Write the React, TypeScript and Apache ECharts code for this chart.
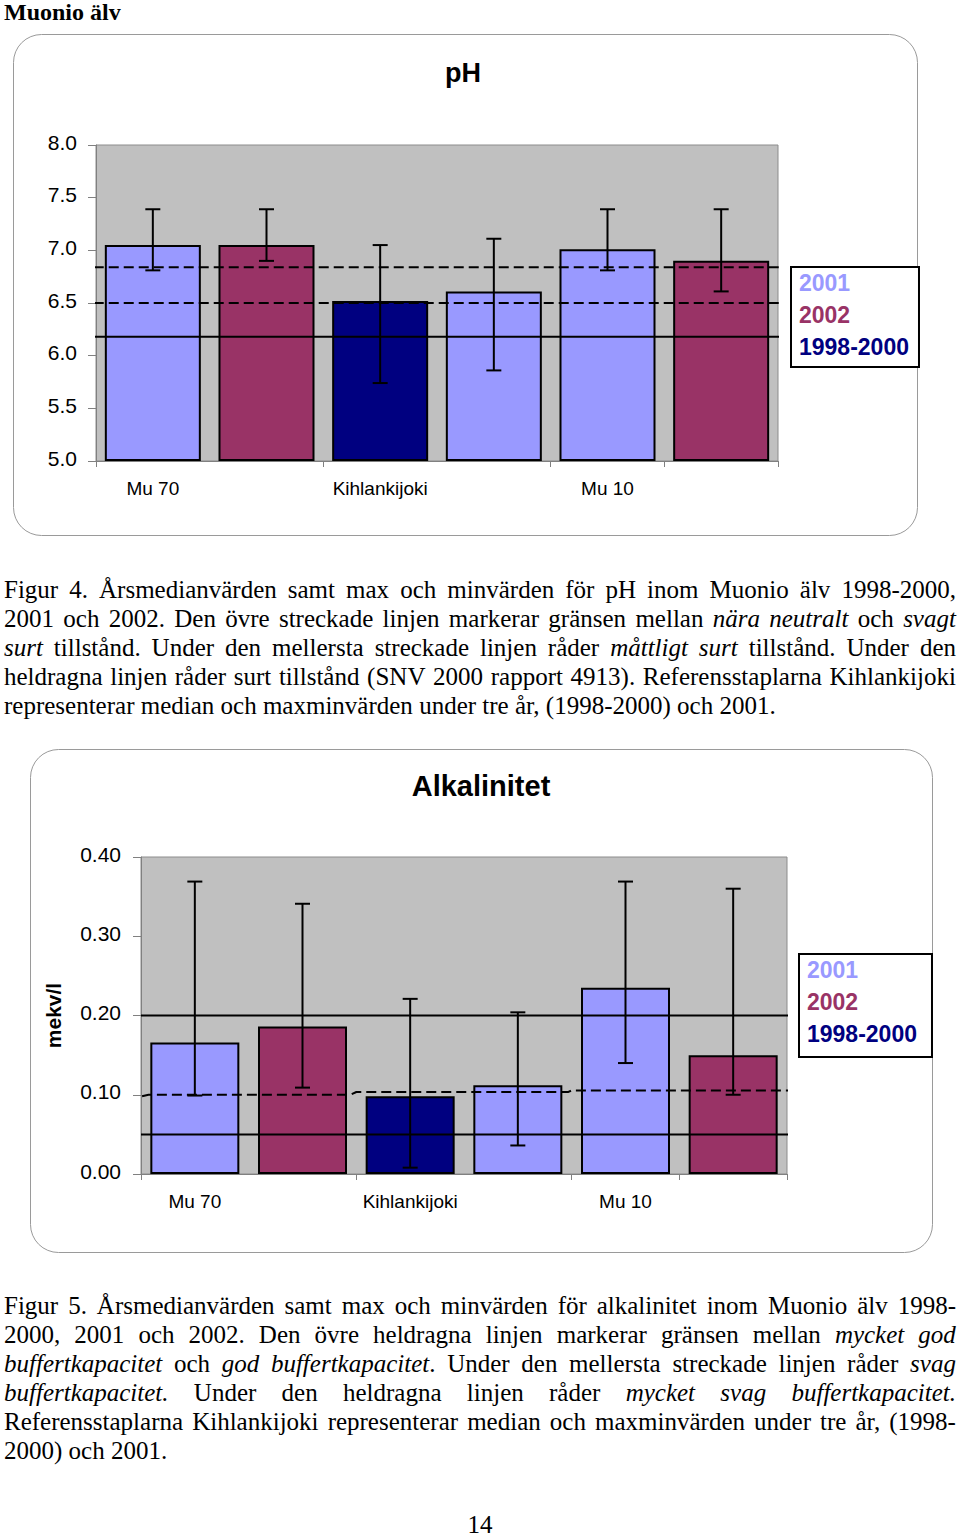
import React, { useEffect, useRef } from 'react';
import * as echarts from 'echarts';

// ---------- data ----------
const categories = ['Mu 70', '', 'Kihlankijoki', '', 'Mu 10', ''];
const seriesNames = ['2001', '2002', '1998-2000'];
const seriesColors = ['#9999FF', '#993366', '#000080'];
// which series (index into seriesNames) each bar slot belongs to
const slotSeries = [0, 1, 2, 0, 0, 1];

const phMedian = [7.05, 7.05, 6.52, 6.61, 7.01, 6.9];
const phMin = [6.81, 6.9, 5.74, 5.86, 6.81, 6.61];
const phMax = [7.39, 7.39, 7.05, 7.11, 7.39, 7.39];

const alkMedian = [0.166, 0.186, 0.098, 0.112, 0.235, 0.15];
const alkMin = [0.099, 0.109, 0.008, 0.036, 0.14, 0.1];
const alkMax = [0.369, 0.341, 0.221, 0.204, 0.369, 0.36];

// reference lines: [position in bar slots, value]
const phUpperDashed = [[-0.02, 6.84], [6.04, 6.84]];
const phMiddleDashed = [[-0.02, 6.5], [6.04, 6.5]];
const phSolid = [[-0.02, 6.18], [6.04, 6.18]];
const alkUpperSolid = [[0, 0.2], [6.01, 0.2]];
const alkDashed = [[0.01, 0.098], [0.07, 0.1], [1.945, 0.1], [2.0, 0.1035], [3.97, 0.1035], [4.0, 0.1055], [6.01, 0.1055]];
const alkLowerSolid = [[0, 0.05], [6.01, 0.05]];

const caption4 = [
  'Figur 4. Årsmedianvärden samt max och minvärden för pH inom Muonio älv 1998-2000,',
  '2001 och 2002. Den övre streckade linjen markerar gränsen mellan *nära neutralt* och *svagt*',
  '*surt* tillstånd. Under den mellersta streckade linjen råder *måttligt surt* tillstånd. Under den',
  'heldragna linjen råder surt tillstånd (SNV 2000 rapport 4913). Referensstaplarna Kihlankijoki',
  'representerar median och maxminvärden under tre år, (1998-2000) och 2001.',
];
const caption5 = [
  'Figur 5. Årsmedianvärden samt max och minvärden för alkalinitet inom Muonio älv 1998-',
  '2000, 2001 och 2002. Den övre heldragna linjen markerar gränsen mellan *mycket god*',
  '*buffertkapacitet* och *god buffertkapacitet*. Under den mellersta streckade linjen råder *svag*',
  '*buffertkapacitet.* Under den heldragna linjen råder *mycket svag buffertkapacitet.*',
  'Referensstaplarna Kihlankijoki representerar median och maxminvärden under tre år, (1998-',
  '2000) och 2001.',
];

const SANS = '"Liberation Sans", Arial, sans-serif';
const SERIF = '"Liberation Serif", "Times New Roman", serif';

function buildChartSeries(g: number, median: number[], mins: number[], maxs: number[], barWidth: number, lines: { pts: number[][]; dashed: boolean }[]) {
  const out: any[] = [];
  seriesNames.forEach((name, s) => {
    out.push({
      type: 'bar',
      name,
      xAxisIndex: g * 2,
      yAxisIndex: g,
      data: median.map((v, i) => (slotSeries[i] === s ? v : '-')),
      barWidth,
      barGap: '-100%',
      itemStyle: { color: seriesColors[s], borderColor: '#000', borderWidth: 2 },
      z: 2,
      silent: true,
    });
  });
  lines.forEach((l) => {
    out.push({
      type: 'line',
      xAxisIndex: g * 2 + 1,
      yAxisIndex: g,
      data: l.pts,
      symbol: 'none',
      showSymbol: false,
      clip: false,
      silent: true,
      lineStyle: { color: '#000', width: 2, type: l.dashed ? [10, 5] : 'solid' },
      z: 3,
    });
  });
  out.push({
    type: 'custom',
    xAxisIndex: g * 2,
    yAxisIndex: g,
    data: median.map((_, i) => [i, mins[i], maxs[i]]),
    encode: { x: 0, y: [1, 2] },
    silent: true,
    z: 4,
    renderItem: (params: any, api: any) => {
      const x = api.value(0);
      const lo = api.coord([x, api.value(1)]);
      const hi = api.coord([x, api.value(2)]);
      const hw = 7.5;
      const style = { stroke: '#000', lineWidth: 2 };
      return {
        type: 'group',
        children: [
          { type: 'line', shape: { x1: hi[0], y1: hi[1], x2: lo[0], y2: lo[1] }, style },
          { type: 'line', shape: { x1: hi[0] - hw, y1: hi[1], x2: hi[0] + hw, y2: hi[1] }, style },
          { type: 'line', shape: { x1: lo[0] - hw, y1: lo[1], x2: lo[0] + hw, y2: lo[1] }, style },
        ],
      };
    },
  });
  return out;
}

function catAxis(g: number) {
  return {
    type: 'category',
    gridIndex: g,
    data: categories,
    axisLine: { show: true, lineStyle: { color: '#808080', width: 1 } },
    axisTick: { show: true, interval: 1, length: 6, lineStyle: { color: '#808080' } },
    axisLabel: { interval: 0, margin: 18, color: '#000', fontSize: 19, fontFamily: SANS },
    splitLine: { show: false },
  };
}

function legendFor(left: number, top: number, padding: number[]) {
  return {
    orient: 'vertical',
    left,
    top,
    itemWidth: 0,
    itemHeight: 24,
    itemGap: 6,
    padding,
    borderColor: '#000',
    borderWidth: 2,
    backgroundColor: '#fff',
    selectedMode: false,
    textStyle: { fontSize: 23, fontWeight: 'bold', fontFamily: SANS },
    data: seriesNames.map((n, i) => ({ name: n, textStyle: { color: seriesColors[i] }, itemStyle: { opacity: 0 } })),
  };
}

function Line({ text, justify }: { text: string; justify: boolean }) {
  let italic = false;
  const words = text.split(' ').map((w) => {
    const parts: { t: string; i: boolean }[] = [];
    let buf = '';
    for (const ch of w) {
      if (ch === '*') {
        if (buf) parts.push({ t: buf, i: italic });
        buf = '';
        italic = !italic;
      } else buf += ch;
    }
    if (buf) parts.push({ t: buf, i: italic });
    return parts;
  });
  return (
    <div
      style={{
        display: 'flex',
        justifyContent: justify ? 'space-between' : 'flex-start',
        columnGap: justify ? 0 : '0.25em',
        whiteSpace: 'nowrap',
        height: 29,
        lineHeight: '29px',
      }}
    >
      {words.map((parts, wi) => (
        <span key={wi}>
          {parts.map((p, pi) => (
            <span key={pi} style={{ fontStyle: p.i ? 'italic' : 'normal' }}>
              {p.t}
            </span>
          ))}
        </span>
      ))}
    </div>
  );
}

function Caption({ lines, top }: { lines: string[]; top: number }) {
  return (
    <div style={{ position: 'absolute', left: 4, top, width: 952, fontFamily: SERIF, fontSize: 25, color: '#000' }}>
      {lines.map((l, i) => (
        <Line key={i} text={l} justify={i < lines.length - 1} />
      ))}
    </div>
  );
}

export default function App() {
  const ref = useRef<HTMLDivElement>(null);
  useEffect(() => {
    if (!ref.current) return;
    const chart = echarts.init(ref.current, null, { renderer: 'svg' });
    const option: any = {
      animation: false,
      graphic: [
        { type: 'rect', shape: { x: 13.5, y: 34.5, width: 904, height: 501, r: 28 }, style: { fill: 'none', stroke: '#9a9a9a', lineWidth: 1 }, silent: true },
        { type: 'rect', shape: { x: 30.5, y: 749.5, width: 902, height: 503, r: 28 }, style: { fill: 'none', stroke: '#9a9a9a', lineWidth: 1 }, silent: true },
        { type: 'text', x: 463, y: 73, style: { text: 'pH', fontSize: 27, fontWeight: 'bold', fontFamily: SANS, fill: '#000', align: 'center', verticalAlign: 'middle' } },
        { type: 'text', x: 481, y: 786, style: { text: 'Alkalinitet', fontSize: 29, fontWeight: 'bold', fontFamily: SANS, fill: '#000', align: 'center', verticalAlign: 'middle' } },
      ],
      legend: [legendFor(791, 267, [3, 10, 7, 2]), legendFor(799, 954, [3, 15, 10, 2])],
      grid: [
        { left: 96, top: 145, width: 682, height: 316, show: true, backgroundColor: '#C0C0C0', borderColor: '#8c8c8c', borderWidth: 1 },
        { left: 141, top: 857, width: 646, height: 317, show: true, backgroundColor: '#C0C0C0', borderColor: '#8c8c8c', borderWidth: 1 },
      ],
      xAxis: [
        catAxis(0),
        { type: 'value', gridIndex: 0, min: 0, max: 6, show: false },
        catAxis(1),
        { type: 'value', gridIndex: 1, min: 0, max: 6, show: false },
      ],
      yAxis: [
        {
          type: 'value', gridIndex: 0, min: 5, max: 8, interval: 0.5, startValue: 5,
          splitLine: { show: false },
          axisLine: { show: true, lineStyle: { color: '#808080' } },
          axisTick: { show: true, length: 8, lineStyle: { color: '#808080' } },
          axisLabel: { formatter: (v: number) => v.toFixed(1), margin: 19, verticalAlign: 'bottom', lineHeight: 6, color: '#000', fontSize: 21, fontFamily: SANS },
        },
        {
          type: 'value', gridIndex: 1, min: 0, max: 0.4, interval: 0.1,
          name: 'mekv/l', nameLocation: 'middle', nameRotate: 90, nameGap: 77,
          nameTextStyle: { fontSize: 21, fontWeight: 'bold', color: '#000', fontFamily: SANS },
          splitLine: { show: false },
          axisLine: { show: true, lineStyle: { color: '#808080' } },
          axisTick: { show: true, length: 8, lineStyle: { color: '#808080' } },
          axisLabel: { formatter: (v: number) => v.toFixed(2), margin: 20, verticalAlign: 'bottom', lineHeight: 6, color: '#000', fontSize: 21, fontFamily: SANS },
        },
      ],
      series: [
        ...buildChartSeries(0, phMedian, phMin, phMax, 96, [
          { pts: phUpperDashed, dashed: true },
          { pts: phMiddleDashed, dashed: true },
          { pts: phSolid, dashed: false },
        ]),
        ...buildChartSeries(1, alkMedian, alkMin, alkMax, 89, [
          { pts: alkUpperSolid, dashed: false },
          { pts: alkDashed, dashed: true },
          { pts: alkLowerSolid, dashed: false },
        ]),
      ],
    };
    chart.setOption(option);
    return () => chart.dispose();
  }, []);

  return (
    <div style={{ position: 'absolute', left: 0, top: 0, width: 960, height: 1537, background: '#fff', overflow: 'hidden' }}>
      <div ref={ref} style={{ position: 'absolute', left: 0, top: 0, width: 960, height: 1537 }} />
      <div style={{ position: 'absolute', left: 4, top: 0, fontFamily: SERIF, fontWeight: 'bold', fontSize: 24, lineHeight: '24px', color: '#000', whiteSpace: 'nowrap' }}>
        Muonio älv
      </div>
      <Caption lines={caption4} top={575} />
      <Caption lines={caption5} top={1291} />
      <div style={{ position: 'absolute', left: 0, top: 1510, width: 960, textAlign: 'center', fontFamily: SERIF, fontSize: 25, lineHeight: '29px', color: '#000' }}>
        14
      </div>
    </div>
  );
}
